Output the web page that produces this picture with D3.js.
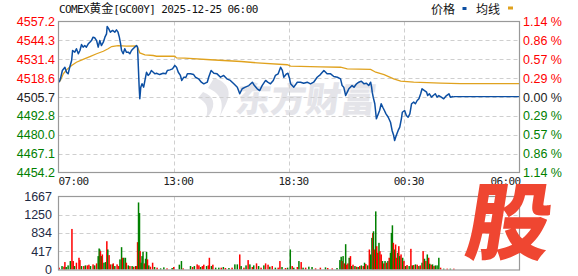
<!DOCTYPE html>
<html><head><meta charset="utf-8">
<script src="https://cdn.jsdelivr.net/npm/d3@7"></script>
<style>
html,body{margin:0;padding:0;background:#fff;}
svg{display:block;}
</style></head>
<body>
<svg id="c" width="578" height="276"></svg>
<script>
// ---------- data ----------
const title = "COMEX黄金[GC00Y] 2025-12-25 06:00";
const prevClose = 4505.7;
const yTickValues = [4557.2, 4544.3, 4531.4, 4518.6, 4505.7, 4492.8, 4480.0, 4467.1, 4454.2];
const yTickLabels = ["4557.2","4544.3","4531.4","4518.6","4505.7","4492.8","4480.0","4467.1","4454.2"];
const pctLabels = ["1.14 %","0.86 %","0.57 %","0.29 %","0.00 %","0.29 %","0.57 %","0.86 %","1.14 %"];
const timeTickMinutes = [0, 360, 690, 1050, 1380];
const timeTickLabels = ["07:00", "13:00", "18:30", "00:30", "06:00"];
const volTicks = [0, 417, 834, 1250, 1667];

// minutes since 07:00, price
const priceData = [
[2,4515.8],[6,4518.1],[12,4523.8],[20,4526.0],[25,4522.6],[30,4521.5],[35,4526.0],[41,4530.6],[44,4537.4],[51,4536.3],
[56,4538.6],[62,4535.2],[67,4537.4],[72,4541.5],[77,4539.7],[82,4540.8],[87,4539.7],[93,4542.0],[98,4543.1],[103,4544.2],
[108,4546.5],[113,4546.1],[119,4544.2],[124,4539.7],[129,4544.2],[134,4540.8],[140,4543.1],[145,4546.5],[150,4548.8],[152,4553.8],
[157,4552.2],[162,4549.9],[169,4551.1],[176,4549.9],[181,4551.5],[186,4549.9],[190,4546.5],[194,4542.0],[197,4537.4],[202,4535.2],
[207,4538.6],[212,4536.3],[218,4536.3],[223,4535.2],[228,4537.4],[233,4538.6],[238,4539.7],[244,4540.8],[247,4539.7],[249,4528.3],
[252,4512.4],[254,4504.5],[257,4512.4],[261,4514.7],[266,4512.4],[270,4517.0],[275,4522.6],[280,4520.4],[285,4521.5],[290,4523.8],
[296,4522.6],[301,4521.5],[306,4521.9],[316,4521.0],[327,4521.9],[335,4521.5],[340,4523.8],[348,4524.2],[356,4524.9],[363,4527.2],
[368,4526.0],[373,4522.6],[379,4520.4],[383,4517.0],[389,4519.2],[395,4519.2],[399,4521.5],[408,4521.5],[417,4521.0],[422,4519.2],
[431,4518.1],[439,4515.8],[446,4514.7],[456,4515.8],[460,4519.2],[467,4523.8],[475,4521.9],[484,4521.5],[494,4519.2],[503,4520.4],
[512,4518.1],[522,4517.0],[532,4514.7],[542,4512.4],[549,4507.9],[556,4511.3],[565,4512.4],[575,4513.5],[585,4515.8],[591,4513.5],
[599,4511.3],[606,4510.1],[613,4513.5],[623,4517.0],[629,4515.8],[637,4514.7],[645,4517.0],[651,4520.4],[659,4521.5],[666,4526.0],
[671,4523.8],[675,4519.2],[683,4521.5],[687,4521.9],[692,4518.1],[695,4514.7],[705,4512.4],[716,4515.8],[726,4515.8],[736,4515.1],
[747,4515.8],[757,4514.7],[767,4515.8],[778,4519.2],[788,4521.0],[799,4523.8],[809,4521.5],[820,4521.5],[830,4519.7],[841,4519.2],
[851,4518.1],[856,4513.5],[861,4512.4],[867,4506.7],[872,4509.0],[877,4511.3],[887,4513.5],[893,4512.4],[901,4514.7],[908,4515.8],
[916,4516.5],[924,4514.7],[932,4515.1],[939,4513.5],[945,4515.8],[948,4512.4],[950,4509.0],[953,4505.6],[958,4501.1],[963,4490.8],
[967,4493.1],[973,4496.5],[978,4501.1],[983,4498.7],[988,4496.5],[993,4494.2],[1000,4491.9],[1007,4488.5],[1012,4482.9],[1017,4479.4],
[1020,4476.0],[1025,4479.4],[1031,4482.9],[1036,4485.1],[1041,4490.8],[1044,4495.3],[1051,4496.5],[1056,4493.1],[1061,4491.9],[1066,4494.2],
[1071,4501.1],[1077,4502.2],[1082,4501.1],[1087,4503.3],[1092,4504.5],[1097,4507.9],[1101,4511.3],[1108,4510.1],[1114,4509.0],[1117,4506.7],
[1122,4507.9],[1128,4505.6],[1133,4506.7],[1139,4507.9],[1144,4505.6],[1149,4506.7],[1156,4505.6],[1163,4504.5],[1171,4506.7],[1178,4507.9],
[1182,4505.6],[1190,4506.0]
];

// average price line
const avgData = [
[2,4516.0],[6,4517.0],[15,4521.5],[25,4524.2],[41,4527.2],[56,4529.4],[77,4531.3],[98,4533.3],[119,4535.2],[140,4536.9],
[155,4538.6],[166,4540.1],[186,4540.8],[212,4540.4],[244,4540.6],[249,4538.6],[254,4535.8],[270,4534.5],[296,4534.0],[306,4533.5],
[363,4533.5],[368,4532.4],[392,4532.2],[465,4531.1],[553,4529.9],[599,4529.0],[685,4527.7],[695,4526.7],[788,4526.2],[851,4526.0],
[872,4524.9],[945,4524.5],[961,4522.6],[987,4521.0],[1017,4518.1],[1039,4516.5],[1077,4515.8],[1154,4515.1],[1211,4514.8],[1380,4514.8]
];

// volume: minute, volume, 1 = up (red) / 0 = down (green)
const volData = [
[2,42,1],[11,79,0],[17,64,1],[20,170,1],[24,57,0],[30,94,0],[37,193,0],[42,926,1],[46,193,1],[50,79,0],
[56,155,1],[64,268,1],[67,215,1],[72,79,0],[79,79,1],[84,94,0],[90,94,1],[95,110,1],[100,79,0],[108,117,1],
[113,94,0],[119,140,1],[124,306,0],[127,480,0],[129,457,0],[131,420,1],[134,306,0],[137,344,1],[142,155,0],[147,170,0],
[151,646,1],[154,457,0],[158,329,1],[162,117,1],[168,117,0],[171,140,1],[176,79,0],[183,117,1],[188,79,1],[192,231,0],
[197,510,0],[200,268,1],[204,268,0],[209,268,0],[212,155,1],[218,94,0],[223,79,1],[230,79,0],[235,64,1],[241,79,0],
[244,79,1],[247,624,1],[250,1531,0],[253,1289,0],[255,420,1],[258,155,0],[261,306,0],[264,404,0],[268,140,1],[272,246,0],
[275,404,0],[278,231,1],[282,94,0],[287,64,1],[294,155,1],[300,57,0],[308,42,1],[319,26,0],[329,49,0],[339,26,1],
[355,34,0],[360,57,1],[376,110,0],[382,193,0],[387,26,1],[408,79,0],[414,57,1],[419,79,0],[427,117,1],[432,94,1],
[437,57,0],[442,79,1],[446,110,1],[454,79,0],[459,94,1],[462,268,1],[468,79,0],[472,110,1],[480,42,0],[489,42,0],
[496,42,1],[502,57,0],[508,34,1],[518,34,0],[527,42,1],[535,117,0],[542,117,0],[549,344,1],[553,79,0],[561,42,1],
[567,94,0],[573,215,1],[578,117,0],[585,57,1],[589,94,0],[597,140,1],[603,79,0],[610,42,1],[618,94,0],[623,140,1],
[630,110,1],[635,64,0],[642,79,1],[651,42,0],[659,42,1],[664,193,1],[670,57,0],[680,34,1],[686,42,0],[694,457,0],
[700,79,1],[705,42,0],[716,57,1],[721,193,0],[728,170,1],[734,42,0],[742,42,1],[752,64,0],[762,57,0],[773,26,1],
[788,42,1],[804,49,0],[811,34,1],[825,26,1],[840,34,0],[849,215,0],[853,291,0],[856,193,1],[859,306,0],[863,140,1],
[867,578,0],[870,110,1],[874,140,1],[878,268,0],[882,306,1],[886,79,0],[890,110,1],[896,79,0],[901,64,1],[906,57,0],
[911,79,1],[916,94,0],[922,79,1],[926,155,0],[930,125,1],[936,94,0],[941,457,1],[945,344,0],[949,722,0],[952,835,1],
[954,873,0],[957,457,1],[961,1327,0],[964,533,1],[967,382,1],[971,609,0],[974,420,1],[978,344,1],[982,193,0],[986,140,1],
[990,193,0],[995,155,1],[999,193,0],[1003,268,1],[1007,382,0],[1010,835,0],[1013,1009,0],[1016,609,1],[1020,457,0],[1023,571,1],
[1026,268,1],[1030,382,0],[1033,533,1],[1036,306,0],[1040,344,1],[1045,268,0],[1049,193,1],[1054,79,0],[1058,102,1],[1064,79,0],
[1069,472,1],[1073,94,0],[1077,102,1],[1082,117,0],[1087,110,1],[1092,79,0],[1096,94,1],[1101,155,0],[1104,420,1],[1108,246,0],
[1112,193,1],[1116,344,0],[1120,268,1],[1123,132,0],[1127,110,1],[1131,117,0],[1135,79,1],[1139,94,0],[1144,94,0],[1149,268,0],
[1154,42,1],[1163,19,0],[1173,19,1],[1182,19,0],[1192,19,1]
];

// ---------- layout ----------
const L = 58.5, R = 519.5;
const mainTop = 21.5, mainBot = 172.5;
const volTop = 196.5, volBot = 270;

const svg = d3.select("#c");
const x = d3.scaleLinear().domain(timeTickMinutes).range([L, L + (R-L)*0.25, L + (R-L)*0.5, L + (R-L)*0.75, R]);
const y = d3.scaleLinear().domain([4454.2, 4557.2]).range([mainBot, mainTop]);
const vy = d3.scaleLinear().domain([0, 1667]).range([volBot - 0.5, volTop]);

const RED = "#ff0000", GREEN = "#008000", GRID = "#cfcfcf", FRAME = "#999";
const numFont = "'Liberation Sans', Arial, sans-serif";
const monoFont = "'DejaVu Sans Mono', 'Liberation Mono', monospace";

// ---------- watermark ----------
const wm = svg.append("g").attr("fill", "#e4e4e9");
wm.append("path")
  .attr("d", "M214,78 C228,82 232,92 226,104 L220,116 C224,104 222,94 208,88 Z M203,92 C214,96 216,104 210,114 L206,118 C209,108 207,102 198,98 Z");
wm.append("text").attr("x", 236).attr("y", 112)
  .attr("font-family", "'Noto Sans CJK SC', sans-serif").attr("font-weight", 900)
  .attr("font-size", 35).attr("transform", "skewX(-8) translate(14,0)")
  .text("东方财富");

// ---------- grid ----------
function hgrid(vals, sc, g) {
  g.selectAll(null).data(vals).enter().append("line")
    .attr("x1", L).attr("x2", R)
    .attr("y1", d => Math.round(sc(d)) + 0.5).attr("y2", d => Math.round(sc(d)) + 0.5)
    .attr("stroke", GRID).attr("stroke-dasharray", "4,3");
}
function vgrid(top, bot, g) {
  g.selectAll(null).data(timeTickMinutes.slice(1, 4)).enter().append("line")
    .attr("x1", d => Math.round(x(d)) + 0.5).attr("x2", d => Math.round(x(d)) + 0.5)
    .attr("y1", top).attr("y2", bot)
    .attr("stroke", GRID).attr("stroke-dasharray", "4,3");
}
const grid = svg.append("g");
hgrid(yTickValues.slice(1, 8), y, grid);
vgrid(mainTop, mainBot, grid);
hgrid(volTicks.slice(1, 4), vy, grid);
vgrid(volTop, volBot, grid);

// ---------- volume bars ----------
svg.append("g").selectAll("rect").data(volData).enter().append("rect")
  .attr("x", d => x(d[0]) - 0.75).attr("width", 1.5)
  .attr("y", d => vy(d[1])).attr("height", d => vy(0) - vy(d[1]))
  .attr("fill", d => d[2] ? RED : GREEN);

// ---------- lines ----------
const line = d3.line().x(d => x(d[0])).y(d => y(d[1]));
svg.append("path").datum(avgData).attr("d", line)
  .attr("fill", "none").attr("stroke", "#e0a21e").attr("stroke-width", 1.3);
svg.append("path").datum(priceData).attr("d", line)
  .attr("fill", "none").attr("stroke", "#0c4fa3").attr("stroke-width", 1.5).attr("stroke-linejoin", "round");
const last = priceData[priceData.length - 1];
svg.append("path").datum([last, [1380, last[1]]]).attr("d", line)
  .attr("fill", "none").attr("stroke", "#0c4fa3").attr("stroke-width", 1.3);

// ---------- frames ----------
svg.append("rect").attr("x", L).attr("y", mainTop).attr("width", R - L).attr("height", mainBot - mainTop)
  .attr("fill", "none").attr("stroke", FRAME).attr("stroke-width", 1.2);
svg.append("rect").attr("x", L).attr("y", volTop).attr("width", R - L).attr("height", volBot - volTop)
  .attr("fill", "none").attr("stroke", FRAME).attr("stroke-width", 1.2);

// ---------- axes labels ----------
const colorFor = i => i < 4 ? RED : (i === 4 ? "#222" : GREEN);
svg.append("g").selectAll("text").data(yTickValues).enter().append("text")
  .attr("x", 55).attr("y", d => y(d)).attr("dy", "0.36em")
  .attr("text-anchor", "end").attr("font-family", numFont).attr("font-size", 12.5)
  .attr("fill", (d, i) => colorFor(i)).text((d, i) => yTickLabels[i]);
svg.append("g").selectAll("text").data(yTickValues).enter().append("text")
  .attr("x", 523).attr("y", d => y(d)).attr("dy", "0.36em")
  .attr("text-anchor", "start").attr("font-family", numFont).attr("font-size", 12.5)
  .attr("fill", (d, i) => colorFor(i)).text((d, i) => pctLabels[i]);

svg.append("g").selectAll("text").data(volTicks).enter().append("text")
  .attr("x", 52).attr("y", d => vy(d)).attr("dy", "0.36em")
  .attr("text-anchor", "end").attr("font-family", numFont).attr("font-size", 12.5)
  .attr("fill", "#1e2a44").text(d => d);

svg.append("g").selectAll("text").data(timeTickMinutes).enter().append("text")
  .attr("x", (d, i) => i === 0 ? L : (i === 4 ? R + 1 : x(d) + 4.5))
  .attr("y", 185)
  .attr("text-anchor", (d, i) => i === 0 ? "start" : (i === 4 ? "end" : "middle"))
  .attr("font-family", monoFont).attr("font-size", 11).attr("letter-spacing", -0.6)
  .attr("fill", "#222").text((d, i) => timeTickLabels[i]);

// ---------- title & legend ----------
const t = svg.append("text").attr("x", 59).attr("y", 12.5)
  .attr("font-family", monoFont).attr("font-size", 11).attr("letter-spacing", -0.6).attr("fill", "#111");
t.append("tspan").text("COMEX");
t.append("tspan").attr("font-family", "'Noto Sans CJK SC', sans-serif").attr("font-size", 12).attr("letter-spacing", 0).text("黄金");
t.append("tspan").text("[GC00Y] 2025-12-25 06:00");

const lg = svg.append("g").attr("font-family", "'Noto Sans CJK SC', sans-serif").attr("font-size", 12).attr("fill", "#111");
lg.append("text").attr("x", 431).attr("y", 13.5).text("价格");
lg.append("rect").attr("x", 462.5).attr("y", 7).attr("width", 4).attr("height", 3).attr("fill", "#0c4fa3");
lg.append("text").attr("x", 476).attr("y", 13.5).text("均线");
lg.append("rect").attr("x", 508).attr("y", 6.5).attr("width", 5).attr("height", 3).attr("fill", "#e0a21e");

// ---------- 股 logo ----------
svg.append("text").attr("x", 0).attr("y", 0)
  .attr("transform", "translate(463,253) skewX(-9)")
  .attr("font-family", "'Noto Sans CJK SC', sans-serif").attr("font-weight", 900)
  .attr("font-size", 84).attr("fill", "#ef4631").text("股");
</script>
</body></html>
